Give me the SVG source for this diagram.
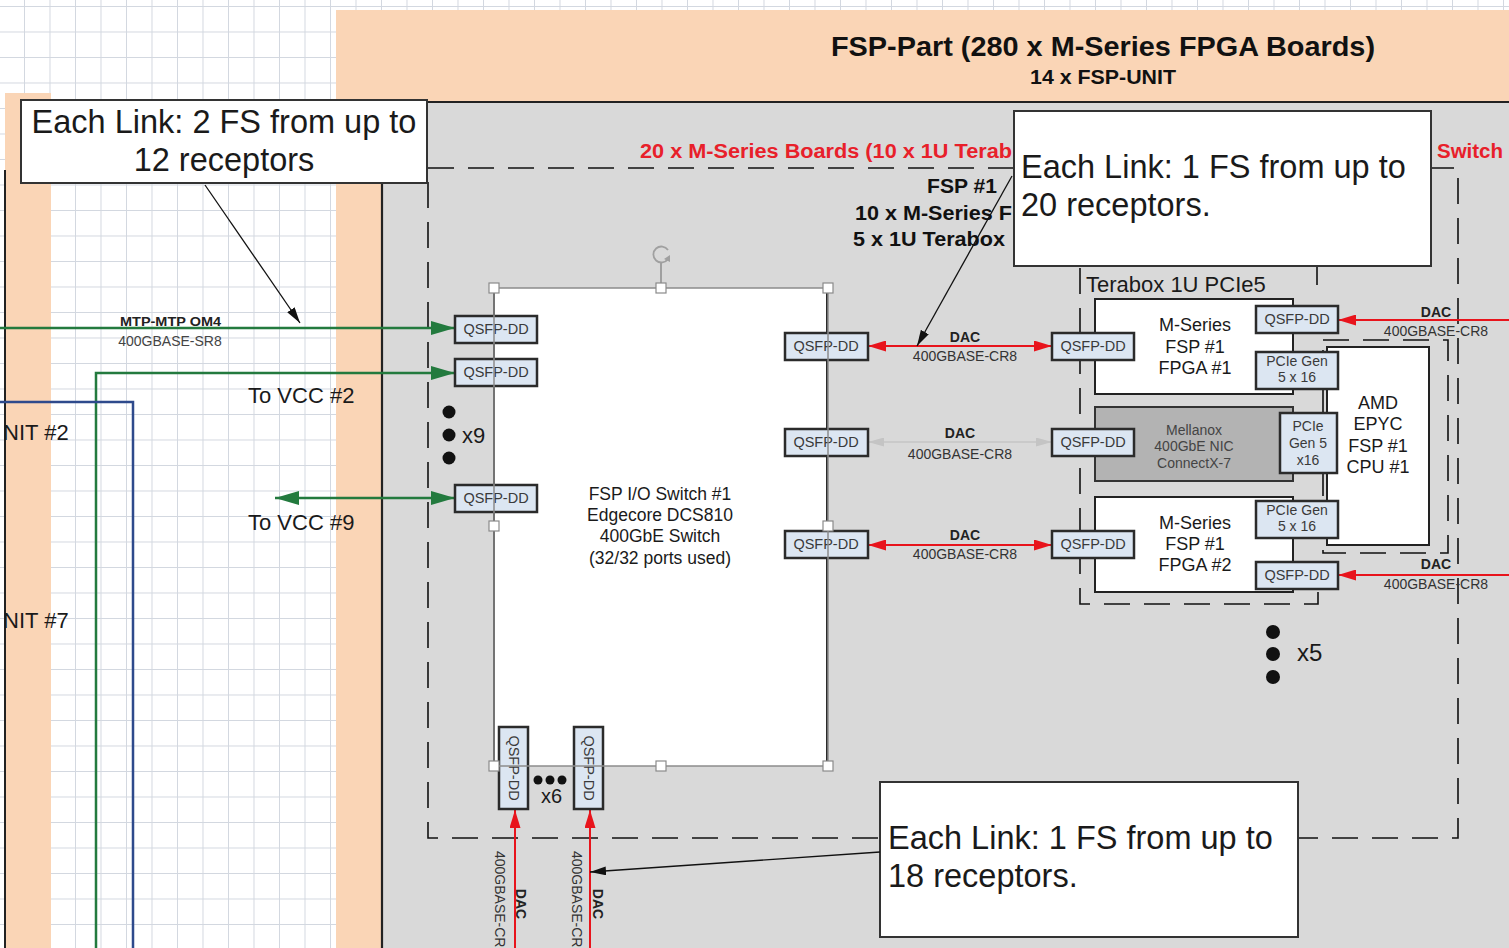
<svg xmlns="http://www.w3.org/2000/svg" width="1509" height="948" viewBox="0 0 1509 948">
  <defs>
    <pattern id="grid" patternUnits="userSpaceOnUse" x="24" y="6" width="25.5" height="25.5">
      <path d="M0 0.5 H25.5 M0.5 0 V25.5" stroke="#d3d8e0" stroke-width="1" fill="none"/>
    </pattern>
    <marker id="arrRed" viewBox="0 0 10 10" refX="10" refY="5" markerUnits="userSpaceOnUse" markerWidth="18" markerHeight="11" orient="auto-start-reverse" preserveAspectRatio="none">
      <path d="M0 0 L10 5 L0 10 Z" fill="#e8141c"/>
    </marker>
    <marker id="arrGray" viewBox="0 0 10 10" refX="10" refY="5" markerUnits="userSpaceOnUse" markerWidth="16" markerHeight="9" orient="auto-start-reverse" preserveAspectRatio="none">
      <path d="M0 0 L10 5 L0 10 Z" fill="#c4c4c4"/>
    </marker>
    <marker id="arrGreen" viewBox="0 0 10 10" refX="10" refY="5" markerUnits="userSpaceOnUse" markerWidth="24" markerHeight="14" orient="auto-start-reverse" preserveAspectRatio="none">
      <path d="M0 0 L10 5 L0 10 Z" fill="#237a3e"/>
    </marker>
    <marker id="arrBlack" viewBox="0 0 10 10" refX="10" refY="5" markerUnits="userSpaceOnUse" markerWidth="16" markerHeight="9" orient="auto" preserveAspectRatio="none">
      <path d="M0 0 L10 5 L0 10 Z" fill="#111"/>
    </marker>
  </defs>
  <style>
    text { font-family: "Liberation Sans", Arial, sans-serif; }
    .port { fill: #dce6f2; stroke: #2b2b2b; stroke-width: 2.5; }
    .ptxt { font-size: 14.5px; fill: #3a3a3a; text-anchor: middle; }
    .small { font-size: 14px; fill: #3a3a3a; text-anchor: middle; }
    .box { fill: #ffffff; stroke: #222; stroke-width: 2; }
    .call { fill: #ffffff; stroke: #333; stroke-width: 2; }
    .ctxt { font-size: 32.5px; fill: #1a1a1a; }
    .dash { fill: none; stroke: #111; stroke-width: 1.6; stroke-dasharray: 26 14; }
    .red { stroke: #e8141c; stroke-width: 2; fill: none; }
    .green { stroke: #237a3e; stroke-width: 2.5; fill: none; }
    .blue { stroke: #2e4a8c; stroke-width: 2.5; fill: none; }
    .lbl { font-size: 14px; fill: #333; text-anchor: middle; }
    .lblb { font-size: 14px; font-weight: bold; fill: #222; text-anchor: middle; }
    .bold { font-weight: bold; fill: #111; }
    .big { font-size: 22px; fill: #1a1a1a; }
    .mid { font-size: 17.5px; fill: #1a1a1a; text-anchor: middle; }
    .board { font-size: 18px; fill: #1a1a1a; text-anchor: middle; }
    .handle { fill: #ffffff; stroke: #8a8a8a; stroke-width: 1.2; }
  </style>

  <!-- page background and grid -->
  <rect x="0" y="0" width="1509" height="948" fill="#ffffff"/>
  <rect x="0" y="0" width="1509" height="948" fill="url(#grid)"/>

  <!-- containers -->
  <g id="vcc-part">
    <rect x="5" y="93" width="46" height="855" fill="#fad5b6"/>
    <line x1="5" y1="170" x2="5" y2="948" stroke="#222" stroke-width="2"/>
    <text x="3" y="440" class="big">NIT #2</text>
    <text x="3" y="628" class="big">NIT #7</text>
  </g>

  <g id="fsp-part">
    <rect x="336" y="10" width="1173" height="938" fill="#fad5b6"/>
    <text x="831" y="56" class="bold" font-size="28" textLength="544" lengthAdjust="spacingAndGlyphs">FSP-Part (280 x M-Series FPGA Boards)</text>
    <text x="1030" y="84" class="bold" font-size="21" textLength="146" lengthAdjust="spacingAndGlyphs">14 x FSP-UNIT</text>
  </g>

  <g id="fsp-unit">
    <rect x="382" y="102" width="1127" height="846" fill="#d9d9d9"/>
    <path d="M382 948 V102 H1509" fill="none" stroke="#222" stroke-width="2.2"/>
  </g>

  <g id="board-group">
    <rect x="428" y="168" width="1030" height="670" class="dash"/>
    <text x="640" y="158" font-size="20" font-weight="bold" fill="#e8202a" textLength="372" lengthAdjust="spacingAndGlyphs">20 x M-Series Boards (10 x 1U Terab</text>
    <text x="1437" y="158" font-size="20" font-weight="bold" fill="#e8202a" textLength="66" lengthAdjust="spacingAndGlyphs">Switch</text>
    <text x="927" y="193" class="bold" font-size="20" textLength="70" lengthAdjust="spacingAndGlyphs">FSP #1</text>
    <text x="855" y="220" class="bold" font-size="20" textLength="157" lengthAdjust="spacingAndGlyphs">10 x M-Series F</text>
    <text x="853" y="246" class="bold" font-size="20" textLength="152" lengthAdjust="spacingAndGlyphs">5 x 1U Terabox</text>
  </g>

  <!-- connectors -->
  <g id="connectors">
    <line x1="0" y1="328" x2="455" y2="328" class="green" marker-end="url(#arrGreen)"/>
    <path d="M96 948 V373 H455" class="green" marker-end="url(#arrGreen)"/>
    <line x1="275" y1="498" x2="455" y2="498" class="green" marker-start="url(#arrGreen)" marker-end="url(#arrGreen)"/>
    <path d="M0 402 H133 V948" class="blue"/>
    <text x="120" y="326" font-size="13" font-weight="bold" fill="#222" textLength="101" lengthAdjust="spacingAndGlyphs">MTP-MTP OM4</text>
    <text x="170" y="346" font-size="14" fill="#444" text-anchor="middle">400GBASE-SR8</text>
    <text x="248" y="403" class="big">To VCC #2</text>
    <text x="248" y="530" class="big">To VCC #9</text>

    <line x1="868" y1="346" x2="1052" y2="346" class="red" marker-start="url(#arrRed)" marker-end="url(#arrRed)"/>
    <text x="965" y="342" class="lblb">DAC</text>
    <text x="965" y="361" class="lbl">400GBASE-CR8</text>

    <line x1="868" y1="442" x2="1052" y2="442" stroke="#c4c4c4" stroke-width="1.5" marker-start="url(#arrGray)" marker-end="url(#arrGray)"/>
    <text x="960" y="438" class="lblb">DAC</text>
    <text x="960" y="459" class="lbl">400GBASE-CR8</text>

    <line x1="868" y1="545" x2="1052" y2="545" class="red" marker-start="url(#arrRed)" marker-end="url(#arrRed)"/>
    <text x="965" y="540" class="lblb">DAC</text>
    <text x="965" y="559" class="lbl">400GBASE-CR8</text>

    <line x1="1509" y1="320" x2="1338" y2="320" class="red" marker-end="url(#arrRed)"/>
    <text x="1436" y="317" class="lblb">DAC</text>
    <text x="1436" y="336" class="lbl">400GBASE-CR8</text>

    <line x1="1509" y1="575" x2="1338" y2="575" class="red" marker-end="url(#arrRed)"/>
    <text x="1436" y="569" class="lblb">DAC</text>
    <text x="1436" y="589" class="lbl">400GBASE-CR8</text>

    <line x1="515" y1="948" x2="515" y2="810" class="red" marker-end="url(#arrRed)"/>
    <line x1="590" y1="948" x2="590" y2="810" class="red" marker-end="url(#arrRed)"/>
    <text transform="translate(495 851) rotate(90)" font-size="14" fill="#333">400GBASE-CR</text>
    <text transform="translate(516 904) rotate(90)" class="lblb">DAC</text>
    <text transform="translate(572 851) rotate(90)" font-size="14" fill="#333">400GBASE-CR</text>
    <text transform="translate(593 904) rotate(90)" class="lblb">DAC</text>
  </g>

  <!-- I/O switch -->
  <g id="io-switch">
    <rect x="494" y="288" width="334" height="478" fill="#ffffff"/>
    <line x1="494" y1="288" x2="494" y2="766" stroke="#2a2a2a" stroke-width="2"/>
    <line x1="827" y1="288" x2="827" y2="766" stroke="#2a2a2a" stroke-width="2"/>
    <text x="660" y="500" class="mid">FSP I/O Switch #1</text>
    <text x="660" y="521" class="mid">Edgecore DCS810</text>
    <text x="660" y="542" class="mid">400GbE Switch</text>
    <text x="660" y="564" class="mid">(32/32 ports used)</text>
  </g>

  <g id="switch-ports">
    <rect x="455" y="316" width="82" height="27" class="port"/><text x="496" y="334" class="ptxt">QSFP-DD</text>
    <rect x="455" y="359" width="82" height="27" class="port"/><text x="496" y="377" class="ptxt">QSFP-DD</text>
    <rect x="455" y="485" width="82" height="27" class="port"/><text x="496" y="503" class="ptxt">QSFP-DD</text>
    <rect x="785" y="333" width="83" height="27" class="port"/><text x="826" y="351" class="ptxt">QSFP-DD</text>
    <rect x="785" y="429" width="83" height="27" class="port"/><text x="826" y="447" class="ptxt">QSFP-DD</text>
    <rect x="785" y="531" width="83" height="27" class="port"/><text x="826" y="549" class="ptxt">QSFP-DD</text>
    <rect x="499" y="727" width="29" height="82" class="port"/><text transform="translate(509 768) rotate(90)" class="ptxt">QSFP-DD</text>
    <rect x="574" y="727" width="29" height="82" class="port"/><text transform="translate(584 768) rotate(90)" class="ptxt">QSFP-DD</text>
  </g>

  <!-- selection frame on the switch -->
  <g id="switch-selection">
    <rect x="494" y="288" width="334" height="478" fill="none" stroke="#8c8c8c" stroke-width="1.5"/>
    <line x1="661" y1="262" x2="661" y2="288" stroke="#8c8c8c" stroke-width="1.5"/>
    <path d="M668 250 A8 8 0 1 0 668 259" fill="none" stroke="#a0a0a0" stroke-width="1.8"/>
    <path d="M664 259 L670 262 L670 255 Z" fill="#a0a0a0"/>
    <rect x="489" y="283" width="10" height="10" class="handle"/>
    <rect x="656" y="283" width="10" height="10" class="handle"/>
    <rect x="823" y="283" width="10" height="10" class="handle"/>
    <rect x="489" y="521" width="10" height="10" class="handle"/>
    <rect x="823" y="521" width="10" height="10" class="handle"/>
    <rect x="489" y="761" width="10" height="10" class="handle"/>
    <rect x="656" y="761" width="10" height="10" class="handle"/>
    <rect x="823" y="761" width="10" height="10" class="handle"/>
  </g>

  <g id="repeat-marks">
    <circle cx="449" cy="412" r="6.5" fill="#111"/>
    <circle cx="449" cy="435" r="6.5" fill="#111"/>
    <circle cx="449" cy="458" r="6.5" fill="#111"/>
    <text x="462" y="443" font-size="22" fill="#1a1a1a">x9</text>
    <circle cx="538" cy="780" r="4.5" fill="#111"/>
    <circle cx="550" cy="780" r="4.5" fill="#111"/>
    <circle cx="562" cy="780" r="4.5" fill="#111"/>
    <text x="541" y="803" font-size="20" fill="#1a1a1a">x6</text>
    <circle cx="1273" cy="632" r="7" fill="#111"/>
    <circle cx="1273" cy="654" r="7" fill="#111"/>
    <circle cx="1273" cy="677" r="7" fill="#111"/>
    <text x="1297" y="661" font-size="24" fill="#1a1a1a">x5</text>
  </g>

  <!-- Terabox chassis -->
  <g id="terabox">
    <path d="M1080 268 V604 H1318 V590" class="dash"/>
    <line x1="1317" y1="266" x2="1317" y2="285" stroke="#111" stroke-width="1.6"/>
    <text x="1086" y="292" font-size="22" fill="#1a1a1a">Terabox 1U PCIe5</text>
    <rect x="1323" y="340" width="125" height="213" class="dash"/>
  </g>

  <g id="amd-cpu">
    <rect x="1327" y="347" width="102" height="198" class="box"/>
    <text x="1378" y="409" class="board">AMD</text>
    <text x="1378" y="430" class="board">EPYC</text>
    <text x="1378" y="452" class="board">FSP #1</text>
    <text x="1378" y="473" class="board">CPU #1</text>
  </g>

  <g id="fpga-1">
    <rect x="1095" y="299" width="198" height="95" class="box"/>
    <text x="1195" y="331" class="board">M-Series</text>
    <text x="1195" y="353" class="board">FSP #1</text>
    <text x="1195" y="374" class="board">FPGA #1</text>
  </g>

  <g id="nic">
    <rect x="1095" y="407" width="198" height="74" fill="#b3b3b3" stroke="#333" stroke-width="2"/>
    <text x="1194" y="435" font-size="14" fill="#444" text-anchor="middle">Mellanox</text>
    <text x="1194" y="451" font-size="14" fill="#444" text-anchor="middle">400GbE NIC</text>
    <text x="1194" y="468" font-size="14" fill="#444" text-anchor="middle">ConnectX-7</text>
  </g>

  <g id="fpga-2">
    <rect x="1095" y="497" width="198" height="95" class="box"/>
    <text x="1195" y="529" class="board">M-Series</text>
    <text x="1195" y="550" class="board">FSP #1</text>
    <text x="1195" y="571" class="board">FPGA #2</text>
  </g>

  <g id="terabox-ports">
    <rect x="1052" y="333" width="82" height="27" class="port"/><text x="1093" y="351" class="ptxt">QSFP-DD</text>
    <rect x="1052" y="429" width="82" height="27" class="port"/><text x="1093" y="447" class="ptxt">QSFP-DD</text>
    <rect x="1052" y="531" width="82" height="27" class="port"/><text x="1093" y="549" class="ptxt">QSFP-DD</text>
    <rect x="1256" y="306" width="82" height="27" class="port"/><text x="1297" y="324" class="ptxt">QSFP-DD</text>
    <rect x="1256" y="562" width="82" height="27" class="port"/><text x="1297" y="580" class="ptxt">QSFP-DD</text>
    <rect x="1256" y="352" width="82" height="37" class="port"/>
    <text x="1297" y="366" class="small">PCIe Gen</text>
    <text x="1297" y="382" class="small">5 x 16</text>
    <rect x="1256" y="501" width="82" height="37" class="port"/>
    <text x="1297" y="515" class="small">PCIe Gen</text>
    <text x="1297" y="531" class="small">5 x 16</text>
    <rect x="1280" y="413" width="57" height="60" class="port"/>
    <text x="1308" y="431" class="small">PCIe</text>
    <text x="1308" y="448" class="small">Gen 5</text>
    <text x="1308" y="465" class="small">x16</text>
  </g>

  <!-- notes -->
  <g id="note-vcc-links">
    <rect x="21" y="100" width="406" height="83" class="call"/>
    <text x="224" y="133" class="ctxt" text-anchor="middle">Each Link: 2 FS from up to</text>
    <text x="224" y="171" class="ctxt" text-anchor="middle">12 receptors</text>
    <line x1="205" y1="185" x2="300" y2="323" stroke="#111" stroke-width="1.3" marker-end="url(#arrBlack)"/>
  </g>

  <g id="note-board-links">
    <rect x="1014" y="111" width="417" height="155" class="call"/>
    <text x="1021" y="178" class="ctxt">Each Link: 1 FS from up to</text>
    <text x="1021" y="216" class="ctxt">20 receptors.</text>
    <line x1="1012" y1="176" x2="917" y2="346" stroke="#111" stroke-width="1.3" marker-end="url(#arrBlack)"/>
  </g>

  <g id="note-uplinks">
    <rect x="880" y="782" width="418" height="155" class="call"/>
    <text x="888" y="849" class="ctxt">Each Link: 1 FS from up to</text>
    <text x="888" y="887" class="ctxt">18 receptors.</text>
    <line x1="880" y1="852" x2="590" y2="872" stroke="#111" stroke-width="1.3" marker-end="url(#arrBlack)"/>
  </g>
</svg>
